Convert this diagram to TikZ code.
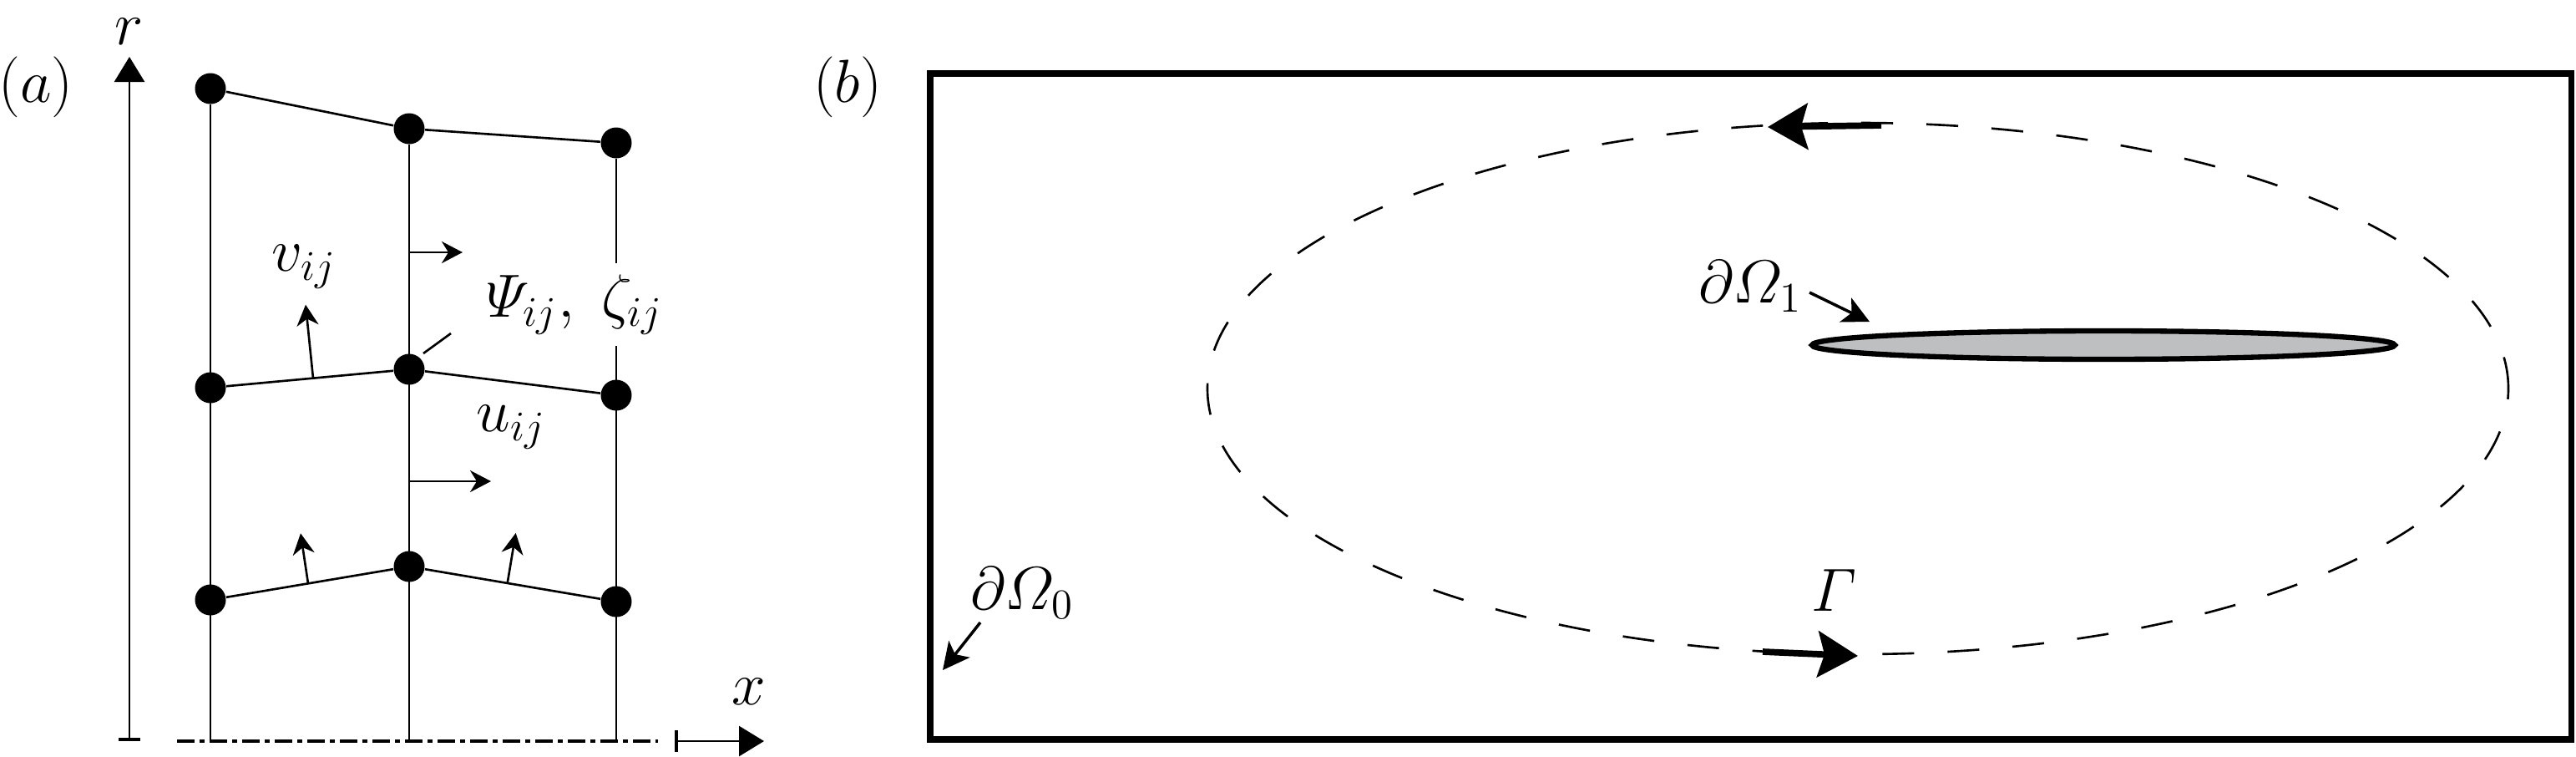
\documentclass[tikz,border=0pt]{standalone}
\usepackage{amsmath,amssymb}
\usepackage{xcolor}
\usetikzlibrary{arrows.meta,positioning}

\definecolor{bodygray}{RGB}{190,191,193}

\tikzset{
    dot/.style={circle, fill=black, inner sep=0pt, minimum size=0.37cm},
    gridline/.style={black, line width=0.75pt},
    smallarrow/.style={black, line width=0.75pt, -{Stealth[length=0.25cm, width=0.26cm, inset=0.08cm]}},
    axisarrow/.style={black, line width=0.75pt, {Bar[width=0.26cm, line width=1.2pt]}-{Triangle[length=0.3cm, width=0.36cm]}},
    labelarrow/.style={black, line width=1pt, -{Stealth[length=0.32cm, width=0.32cm, inset=0.08cm]}},
    flowarrow/.style={black, line width=2.2pt, -{Stealth[length=0.48cm, width=0.55cm, inset=0.08cm]}},
    lbl/.style={inner sep=0pt, font=\fontsize{20}{24}\selectfont},
}

\begin{document}
\begin{tikzpicture}
    \useasboundingbox (0,0) rectangle (30.85,9.05);

    % (a) grid of points
    \node[lbl] (labela) at (0.43,8.01) {$(a)$};
    \foreach \n/\x/\y in {t1/2.52/7.99, t2/4.90/7.51, t3/7.38/7.34,
                          m1/2.52/4.41, m2/4.90/4.63, m3/7.38/4.32,
                          b1/2.52/1.87, b2/4.90/2.27, b3/7.38/1.85} {
        \node[dot] (\n) at (\x,\y) {};
    }
    \coordinate (base1) at (2.52,0.18);
    \coordinate (base2) at (4.90,0.18);
    \coordinate (base3) at (7.38,0.18);
    \coordinate (gaptop) at (7.38,5.90);
    \coordinate (gapbot) at (7.38,4.91);

    \draw[gridline] (t1) -- (base1);
    \draw[gridline] (t2) -- (base2);
    \draw[gridline] (t3) -- (gaptop);
    \draw[gridline] (gapbot) -- (base3);
    \draw[gridline] (t1) -- (t2) -- (t3);
    \draw[gridline] (m1) -- (m2) -- (m3);
    \draw[gridline] (b1) -- (b2) -- (b3);

    % axes
    \coordinate (rbot) at (1.55,0.18);
    \coordinate (rtop) at (1.55,8.37);
    \draw[axisarrow] (rbot) -- (rtop);
    \node[lbl] (rlab) at (1.55,8.67) {$r$};
    \coordinate (linestart) at (2.12,0.18);
    \coordinate (lineend) at (7.88,0.18);
    \draw[black, line width=1.2pt, dash pattern=on 0.21cm off 0.06cm on 0.06cm off 0.06cm] (linestart) -- (lineend);
    \coordinate (xbot) at (8.08,0.18);
    \coordinate (xtop) at (9.15,0.18);
    \draw[axisarrow] (xbot) -- (xtop);
    \node[lbl] (xlab) at (8.97,0.77) {$x$};

    % velocities
    \coordinate (uup) at (4.90,6.03);
    \coordinate (ulow) at (4.90,3.29);
    \draw[smallarrow] (uup) -- ++(0.64,0);
    \draw[smallarrow] (ulow) -- ++(0.98,0);
    \path (m1) -- (m2) coordinate[pos=0.52] (vmid);
    \path (b1) -- (b2) coordinate[pos=0.49] (vleft);
    \path (b2) -- (b3) coordinate[pos=0.47] (vright);
    \draw[smallarrow] (vmid) -- ++(-0.09,0.88);
    \draw[smallarrow] (vleft) -- ++(-0.09,0.60);
    \draw[smallarrow] (vright) -- ++(0.10,0.60);
    \node[lbl] (vlab) at (3.64,5.86) {$v_{ij}$};
    \node[lbl] (ulab) at (6.12,3.94) {$u_{ij}$};
    \node[lbl] (psilab) at (6.88,5.40) {$\varPsi_{ij},\;\zeta_{ij}$};
    \coordinate (leadin) at (5.07,4.82);
    \coordinate (leadout) at (5.40,5.06);
    \draw[gridline] (leadin) -- (leadout);

    % (b) domain
    \node[lbl] (labelb) at (10.15,8.01) {$(b)$};
    \draw[black, line width=2pt] (11.14,0.20) rectangle (30.79,8.17);
    \draw[black, line width=0.75pt, dash pattern=on 0.38cm off 0.40cm] (22.25,4.40) ellipse (7.79 and 3.18);
    \draw[black, line width=1.8pt, fill=bodygray] (25.19,4.92) ellipse (3.49 and 0.17);

    \coordinate (topa) at (22.53,7.55);
    \coordinate (topb) at (21.17,7.53);
    \draw[flowarrow] (topa) -- (topb);
    \coordinate (bota) at (21.11,1.25);
    \coordinate (botb) at (22.25,1.20);
    \draw[flowarrow] (bota) -- (botb);
    \node[lbl] (gammalab) at (21.97,1.98) {$\varGamma$};

    \node[lbl] (om1lab) at (20.96,5.62) {$\partial\varOmega_1$};
    \coordinate (om1a) at (21.67,5.55);
    \coordinate (om1b) at (22.39,5.20);
    \draw[labelarrow] (om1a) -- (om1b);
    \node[lbl] (om0lab) at (12.24,1.95) {$\partial\varOmega_0$};
    \coordinate (om0a) at (11.74,1.60);
    \coordinate (om0b) at (11.29,1.03);
    \draw[labelarrow] (om0a) -- (om0b);

\end{tikzpicture}
\end{document}
